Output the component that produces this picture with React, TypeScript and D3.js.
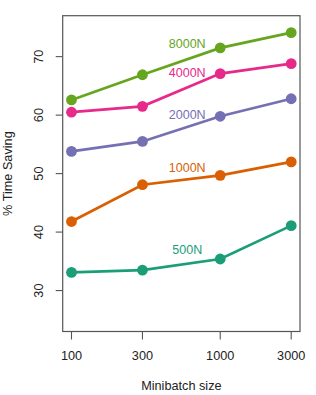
import React from "react";
import * as d3 from "d3";

const minibatch = [100, 300, 1000, 3000];
const xTicks = [100, 300, 1000, 3000];
const yTicks = [30, 40, 50, 60, 70];
const seriesNames = ["500N", "1000N", "2000N", "4000N", "8000N"];
const seriesColors = ["#1B9E77", "#D95F02", "#7570B3", "#E7298A", "#66A61E"];
const v500 = [33.1, 33.5, 35.4, 41.1];
const v1000 = [41.8, 48.1, 49.7, 52.0];
const v2000 = [53.8, 55.5, 59.8, 62.8];
const v4000 = [60.5, 61.5, 67.1, 68.8];
const v8000 = [62.6, 66.9, 71.5, 74.1];
const labelX = [600, 600, 600, 600, 600];
const labelY = [37, 51, 60, 67.2, 72.1];

const seriesValues = [v500, v1000, v2000, v4000, v8000];

export default function App() {
  const W = 316, H = 395;
  const left = 62.7, right = 300, top = 15.7, bottom = 331.5;
  const xDom = [Math.log10(100), Math.log10(3000)];
  const xPad = (xDom[1] - xDom[0]) * 0.04;
  const x = d3.scaleLog().domain([Math.pow(10, xDom[0] - xPad), Math.pow(10, xDom[1] + xPad)]).range([left, right]);
  const y = d3.scaleLinear().domain([23, 77]).range([bottom, top]);
  const line = d3.line<number>().x((_, i) => x(minibatch[i])).y((d) => y(d));
  const font = "'Liberation Sans', Arial, Helvetica, sans-serif";
  const axisColor = "#555";
  const fs = 12.7;

  return (
    <svg width={W} height={H} style={{ position: "absolute", left: 0, top: 0, display: "block" }} fontFamily={font}>
      <rect x={0} y={0} width={W} height={H} fill="#fff" />
      {seriesValues.map((vals, si) => (
        <g key={seriesNames[si]}>
          <path d={line(vals) || ""} fill="none" stroke={seriesColors[si]} strokeWidth={2.7} />
          {vals.map((v, i) => (
            <circle key={i} cx={x(minibatch[i])} cy={y(v)} r={5.4} fill={seriesColors[si]} />
          ))}
          <text x={x(labelX[si])} y={y(labelY[si])} textAnchor="middle" dominantBaseline="central" fontSize={12.5} fill={seriesColors[si]}>
            {seriesNames[si]}
          </text>
        </g>
      ))}
      <rect x={left} y={top} width={right - left} height={bottom - top} fill="none" stroke={axisColor} strokeWidth={1.2} />
      {xTicks.map((t) => (
        <g key={t}>
          <line x1={x(t)} x2={x(t)} y1={bottom} y2={bottom + 8} stroke={axisColor} strokeWidth={1.1} />
          <text x={x(t)} y={356} textAnchor="middle" dominantBaseline="central" fontSize={fs} fill="#222">
            {t}
          </text>
        </g>
      ))}
      {yTicks.map((t) => (
        <g key={t}>
          <line x1={left} x2={left - 7} y1={y(t)} y2={y(t)} stroke={axisColor} strokeWidth={1.1} />
          <text transform={`translate(39,${y(t)}) rotate(-90)`} textAnchor="middle" dominantBaseline="central" fontSize={fs} fill="#222">
            {t}
          </text>
        </g>
      ))}
      <text x={(left + right) / 2} y={386} textAnchor="middle" dominantBaseline="central" fontSize={fs} fill="#222">
        Minibatch size
      </text>
      <text transform={`translate(8,${(top + bottom) / 2}) rotate(-90)`} textAnchor="middle" dominantBaseline="central" fontSize={fs} fill="#222">
        % Time Saving
      </text>
    </svg>
  );
}
